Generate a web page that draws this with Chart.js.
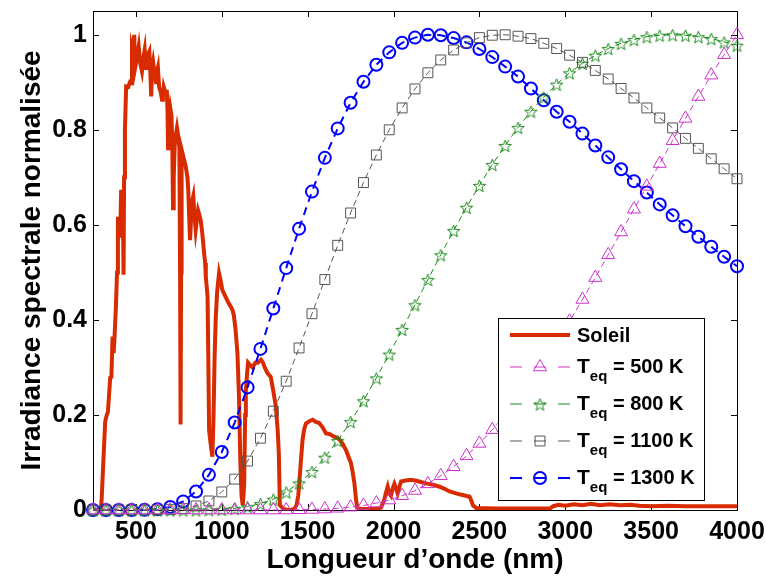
<!DOCTYPE html>
<html>
<head>
<meta charset="utf-8">
<script src="https://cdn.jsdelivr.net/npm/chart.js@4/dist/chart.umd.min.js"></script>
<style>
  html, body { margin: 0; padding: 0; background: #fff; }
</style>
</head>
<body>
<canvas id="c" width="766" height="579"></canvas>
<script>
// wavelengths (nm) of the equilibrium-temperature curves
const wl = [250, 325, 400, 475, 550, 625, 700, 775, 850, 925, 1000, 1075, 1150, 1225, 1300, 1375, 1450,
  1525, 1600, 1675, 1750, 1825, 1900, 1975, 2050, 2125, 2200, 2275, 2350, 2425, 2500, 2575, 2650, 2725,
  2800, 2875, 2950, 3025, 3100, 3175, 3250, 3325, 3400, 3475, 3550, 3625, 3700, 3775, 3850, 3925, 4000];

const t500 = [0, 0, 0, 0, 0, 0, 0, 0, 0, 0, 0, 0, 0, 0, 0, 0, 0.0005,
  0.0011, 0.002, 0.0036, 0.006, 0.0095, 0.0146, 0.021, 0.030, 0.041, 0.055, 0.072, 0.091, 0.114, 0.140, 0.169, 0.200, 0.235,
  0.272, 0.312, 0.354, 0.397, 0.443, 0.489, 0.537, 0.585, 0.633, 0.681, 0.729, 0.777, 0.824, 0.870, 0.915, 0.958, 1.000];

const t800 = [0, 0, 0, 0, 0, 0, 0, 0, 0.0001, 0.0005, 0.0014, 0.0034, 0.0071, 0.0135, 0.023, 0.038, 0.057,
  0.081, 0.111, 0.146, 0.186, 0.230, 0.278, 0.328, 0.380, 0.432, 0.485, 0.537, 0.588, 0.637, 0.683, 0.727, 0.767, 0.805,
  0.839, 0.869, 0.896, 0.920, 0.940, 0.957, 0.971, 0.982, 0.990, 0.996, 0.999, 1.000, 0.999, 0.996, 0.992, 0.985, 0.978];

const t1100 = [0, 0, 0, 0, 0, 0, 0.0008, 0.003, 0.0085, 0.019, 0.038, 0.065, 0.103, 0.151, 0.208, 0.271, 0.341,
  0.413, 0.485, 0.557, 0.625, 0.689, 0.747, 0.800, 0.846, 0.886, 0.920, 0.947, 0.968, 0.983, 0.994, 0.999, 1.000, 0.997,
  0.992, 0.982, 0.971, 0.957, 0.942, 0.925, 0.907, 0.887, 0.867, 0.846, 0.825, 0.804, 0.782, 0.761, 0.739, 0.718, 0.697];

const t1300 = [0, 0, 0, 0, 0.0003, 0.0017, 0.0063, 0.018, 0.039, 0.074, 0.122, 0.184, 0.258, 0.339, 0.424, 0.509, 0.592,
  0.670, 0.741, 0.803, 0.857, 0.901, 0.937, 0.963, 0.983, 0.994, 1.000, 0.999, 0.993, 0.984, 0.970, 0.953, 0.933, 0.912,
  0.887, 0.862, 0.838, 0.817, 0.792, 0.767, 0.742, 0.717, 0.692, 0.668, 0.643, 0.620, 0.597, 0.575, 0.554, 0.533, 0.513];

// solar spectrum
const sunWl = [250, 295, 300, 310, 321, 330, 337, 345, 350, 357, 364, 370, 375, 383, 390, 395, 402, 408, 414, 420,
  425, 428, 431, 436, 443, 455, 465, 472, 477, 485, 490, 495, 505, 516, 525, 535, 543, 551, 558, 565,
  572, 578, 584, 589, 594, 600, 608, 617, 622, 628, 635, 644, 652, 657, 662, 670, 680, 684, 687, 692,
  700, 707, 712, 716, 720, 726, 733, 739, 745, 753, 757, 760, 763, 766, 778, 790, 800, 805, 810, 815,
  822, 828, 834, 841, 848, 855, 862, 870, 877, 887, 897, 903, 907, 912, 917, 922, 926, 935, 945, 952,
  958, 965, 973, 984, 995, 1003, 1020, 1040, 1052, 1063, 1070, 1080, 1091, 1100, 1108, 1115, 1122, 1130, 1136, 1140,
  1148, 1153, 1165, 1179, 1195, 1210, 1228, 1240, 1250, 1266, 1285, 1300, 1315, 1325, 1332, 1338, 1360, 1380, 1400, 1422,
  1435, 1445, 1451, 1460, 1470, 1480, 1490, 1510, 1529, 1545, 1567, 1585, 1607, 1626, 1650, 1684, 1705, 1723, 1740, 1752,
  1762, 1772, 1782, 1791, 1820, 1860, 1900, 1927, 1945, 1955, 1966, 1975, 1985, 1995, 2005, 2015, 2024, 2035, 2044, 2070,
  2090, 2112, 2150, 2190, 2230, 2268, 2300, 2326, 2384, 2420, 2443, 2455, 2462, 2482, 2600, 2750, 2910, 2930, 2960, 3000,
  3050, 3100, 3150, 3200, 3260, 3320, 3380, 3430, 3500, 3600, 3700, 3800, 3900, 4000];
const sunVal = [0, 0, 0.02, 0.1, 0.186, 0.2, 0.207, 0.25, 0.278, 0.28, 0.365, 0.33, 0.36, 0.425, 0.5, 0.617, 0.6, 0.573, 0.674, 0.66,
  0.6, 0.495, 0.70, 0.80, 0.891, 0.89, 0.9, 0.898, 0.972, 0.96, 1.0, 0.93, 0.95, 0.975, 0.94, 0.923, 0.95, 0.968, 0.93, 0.93,
  0.96, 0.965, 0.92, 0.870, 0.93, 0.943, 0.92, 0.90, 0.92, 0.93, 0.89, 0.88, 0.863, 0.87, 0.89, 0.88, 0.88, 0.84, 0.761, 0.82,
  0.846, 0.83, 0.76, 0.635, 0.7, 0.77, 0.79, 0.804, 0.79, 0.761, 0.5, 0.18, 0.5, 0.758, 0.74, 0.723, 0.70, 0.67, 0.62, 0.568,
  0.62, 0.65, 0.66, 0.62, 0.589, 0.61, 0.63, 0.62, 0.61, 0.58, 0.54, 0.52, 0.49, 0.47, 0.45, 0.30, 0.168, 0.14, 0.112, 0.2,
  0.32, 0.407, 0.46, 0.498, 0.48, 0.463, 0.45, 0.435, 0.428, 0.42, 0.41, 0.38, 0.33, 0.24, 0.1, 0.03, 0.01, 0.05, 0.2, 0.25,
  0.29, 0.31, 0.305, 0.30, 0.31, 0.31, 0.316, 0.31, 0.30, 0.288, 0.28, 0.25, 0.217, 0.17, 0.12, 0.01, 0.002, 0, 0, 0.002,
  0.01, 0.03, 0.056, 0.1, 0.147, 0.17, 0.182, 0.187, 0.19, 0.186, 0.183, 0.175, 0.161, 0.16, 0.155, 0.149, 0.138, 0.126, 0.11, 0.099,
  0.08, 0.057, 0.02, 0.003, 0.002, 0.002, 0.002, 0.005, 0.02, 0.035, 0.049, 0.035, 0.03, 0.045, 0.055, 0.045, 0.035, 0.05, 0.060, 0.062,
  0.063, 0.063, 0.06, 0.056, 0.053, 0.049, 0.044, 0.039, 0.033, 0.03, 0.028, 0.018, 0.01, 0.004, 0.003, 0.003, 0.003, 0.008, 0.011, 0.009,
  0.012, 0.01, 0.013, 0.01, 0.012, 0.01, 0.011, 0.009, 0.008, 0.009, 0.008, 0.008, 0.008, 0.008];

const xTicks = [500, 1000, 1500, 2000, 2500, 3000, 3500, 4000];
const yTicks = [0, 0.2, 0.4, 0.6, 0.8, 1];

const FONT = "'Liberation Sans', Arial, Helvetica, sans-serif";

function starImage(color, r) {
  const c = document.createElement('canvas');
  const s = Math.ceil(2 * r + 4);
  c.width = c.height = s;
  const g = c.getContext('2d');
  g.strokeStyle = color;
  g.lineWidth = 1;
  g.beginPath();
  for (let i = 0; i < 10; i++) {
    const rad = i % 2 ? r * 0.42 : r;
    const ang = -Math.PI / 2 + i * Math.PI / 5;
    const px = s / 2 + rad * Math.cos(ang);
    const py = s / 2 + 1 + rad * Math.sin(ang);
    if (i === 0) g.moveTo(px, py); else g.lineTo(px, py);
  }
  g.closePath();
  g.stroke();
  return c;
}

function pts(xs, ys) {
  return xs.map((x, i) => ({ x: x, y: ys[i] }));
}

function tempSet(label, ys, color, style, radius, width, dash) {
  return {
    label: label,
    data: pts(wl, ys),
    showLine: true,
    borderColor: color,
    borderWidth: width,
    borderDash: dash,
    pointStyle: style,
    pointRadius: radius,
    pointBorderColor: color,
    pointBackgroundColor: 'rgba(0,0,0,0)',
    pointBorderWidth: width,
    clip: false,
    order: 1,
  };
}

const datasets = [
  {
    label: 'Soleil',
    data: pts(sunWl, sunVal),
    showLine: true,
    borderColor: '#d92b00',
    borderWidth: 4,
    pointRadius: 0,
    order: 10,
  },
  tempSet('T_eq = 500 K', t500, '#cc33cc', 'triangle', 7.5, 1, [6, 4]),
  tempSet('T_eq = 800 K', t800, '#1a8a1a', starImage('#1a8a1a', 6.5), 6.5, 1, [6, 4]),
  tempSet('T_eq = 1100 K', t1100, '#555555', 'rect', 7, 1, [6, 4]),
  tempSet('T_eq = 1300 K', t1300, '#0000ff', 'circle', 6, 2, [8, 6]),
];

// box and inward tick marks, drawn under the curves
const framePlugin = {
  id: 'frame',
  beforeDatasetsDraw(chart) {
    const { ctx, chartArea: a, scales: { x, y } } = chart;
    ctx.save();
    ctx.strokeStyle = '#000';
    ctx.lineWidth = 1;
    ctx.strokeRect(a.left + 0.5, a.top + 0.5, a.right - a.left, a.bottom - a.top);
    ctx.beginPath();
    xTicks.forEach(v => {
      const px = Math.round(x.getPixelForValue(v)) + 0.5;
      ctx.moveTo(px, a.bottom); ctx.lineTo(px, a.bottom - 6);
      ctx.moveTo(px, a.top); ctx.lineTo(px, a.top + 6);
    });
    yTicks.forEach(v => {
      const py = Math.round(y.getPixelForValue(v)) + 0.5;
      ctx.moveTo(a.left, py); ctx.lineTo(a.left + 6, py);
      ctx.moveTo(a.right, py); ctx.lineTo(a.right - 6, py);
    });
    ctx.stroke();
    ctx.restore();
  }
};

// legend box in the lower right corner
const legendPlugin = {
  id: 'boxLegend',
  afterDraw(chart) {
    const { ctx, chartArea: a } = chart;
    const w = 206, h = 182;
    const left = a.right - 33 - w, top = a.bottom - 10 - h;
    ctx.save();
    ctx.fillStyle = '#fff';
    ctx.fillRect(left, top, w, h);
    ctx.strokeStyle = '#000';
    ctx.lineWidth = 1;
    ctx.strokeRect(left + 0.5, top + 0.5, w, h);
    const rows = [17, 49, 86, 123, 160];
    chart.data.datasets.forEach((ds, i) => {
      const cy = top + rows[i];
      const x0 = left + 12;
      ctx.strokeStyle = ds.borderColor;
      if (i === 0) {
        ctx.lineWidth = 4;
        ctx.beginPath(); ctx.moveTo(x0, cy); ctx.lineTo(x0 + 60, cy); ctx.stroke();
      } else {
        ctx.lineWidth = ds.borderWidth;
        ctx.setLineDash([12, 12]);
        ctx.beginPath(); ctx.moveTo(x0, cy); ctx.lineTo(x0 + 60, cy); ctx.stroke();
        ctx.setLineDash([]);
        ctx.fillStyle = 'rgba(0,0,0,0)';
        Chart.helpers.drawPoint(ctx, {
          pointStyle: ds.pointStyle, radius: ds.pointRadius, rotation: 0, borderWidth: ds.pointBorderWidth
        }, x0 + 30, cy);
      }
      ctx.fillStyle = '#000';
      ctx.textBaseline = 'middle';
      ctx.textAlign = 'left';
      let tx = x0 + 67;
      const parts = ds.label.split('_eq');
      if (parts.length === 1) {
        ctx.font = 'bold 20px ' + FONT;
        ctx.fillText(ds.label, tx, cy + 1);
      } else {
        ctx.font = 'bold 21px ' + FONT;
        ctx.fillText(parts[0], tx, cy);
        tx += ctx.measureText(parts[0]).width;
        ctx.font = 'bold 15px ' + FONT;
        ctx.fillText('eq', tx, cy + 10);
        tx += ctx.measureText('eq').width;
        ctx.font = 'bold 20px ' + FONT;
        ctx.fillText(parts[1], tx, cy);
      }
    });
    ctx.restore();
  }
};

const tickFont = { family: FONT, size: 25, weight: 'bold' };
const titleFont = { family: FONT, size: 28, weight: 'bold' };

new Chart(document.getElementById('c'), {
  type: 'scatter',
  data: { datasets: datasets },
  options: {
    responsive: false,
    animation: false,
    layout: { padding: { top: 11, right: 29, left: 0, bottom: 0 } },
    plugins: { legend: { display: false }, tooltip: { enabled: false } },
    elements: { line: { tension: 0 } },
    scales: {
      x: {
        type: 'linear', min: 250, max: 4000,
        afterBuildTicks: s => { s.ticks = xTicks.map(v => ({ value: v })); },
        afterFit: s => { s.height = 69; s.paddingLeft = 0; s.paddingRight = 0; },
        grid: { display: false, drawTicks: false },
        border: { display: false },
        ticks: { font: tickFont, color: '#000', padding: 7, maxRotation: 0, autoSkip: false, callback: v => String(v) },
        title: { display: true, text: 'Longueur d’onde (nm)', font: titleFont, color: '#000', padding: { top: 0, bottom: 2 } }
      },
      y: {
        type: 'linear', min: 0, max: 1.05,
        afterBuildTicks: s => { s.ticks = yTicks.map(v => ({ value: v })); },
        afterFit: s => { s.width = 93; s.paddingTop = 0; s.paddingBottom = 0; },
        grid: { display: false, drawTicks: false },
        border: { display: false },
        ticks: { font: tickFont, color: '#000', padding: 6, callback: v => String(v) },
        title: { display: true, text: 'Irradiance spectrale normalisée', font: titleFont, color: '#000', padding: { top: 15, bottom: 0 } }
      }
    }
  },
  plugins: [framePlugin, legendPlugin]
});
</script>
</body>
</html>
